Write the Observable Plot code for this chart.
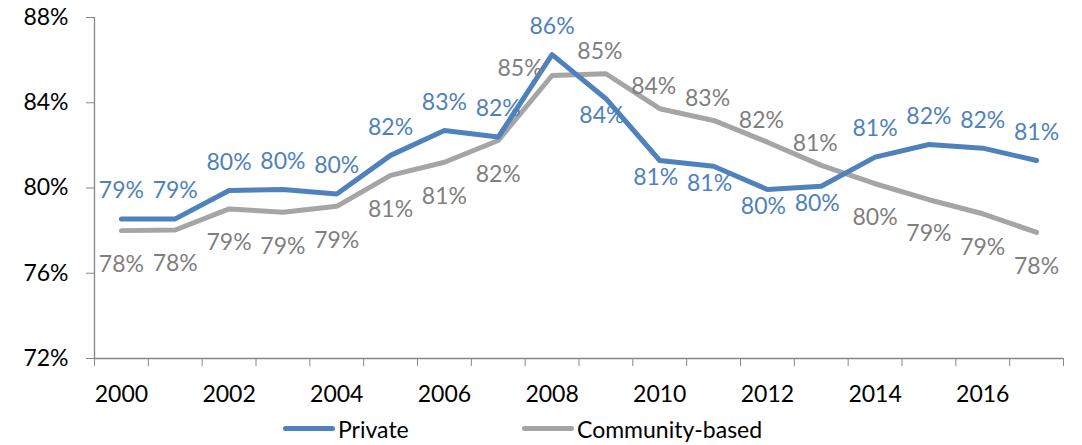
<!DOCTYPE html>
<html>
<head>
<meta charset="utf-8">
<script src="https://cdn.jsdelivr.net/npm/d3@7"></script>
<script src="https://cdn.jsdelivr.net/npm/@observablehq/plot@0.6"></script>
<style>
  html, body { margin: 0; padding: 0; background: #fff; }
  body { width: 1082px; height: 445px; overflow: hidden; font-family: Lato, "Open Sans", sans-serif; }
  #chart svg { display: block; }
  .legend { position: relative; height: 33px; font-size: 23px; color: #000; }
  .item { position: absolute; top: 0; display: flex; align-items: center; height: 33px; }
  .sw { width: 52px; height: 5px; border-radius: 3px; margin-right: 3px; }
</style>
</head>
<body>
<div id="chart"></div>
<div class="legend" id="legend"></div>
<script>
const years = d3.range(2000, 2018);
const seriesNames = ["Private", "Community-based"];
const privateValues = [78.55, 78.55, 79.88, 79.93, 79.72, 81.53, 82.70, 82.39, 86.26, 84.19, 81.29, 81.02, 79.93, 80.08, 81.45, 82.04, 81.87, 81.29];
const communityValues = [78.00, 78.03, 79.02, 78.86, 79.14, 80.59, 81.21, 82.23, 85.28, 85.36, 83.72, 83.17, 82.15, 81.06, 80.20, 79.45, 78.79, 77.92];
const yTicks = [72, 76, 80, 84, 88];
const xTickLabels = [2000, 2002, 2004, 2006, 2008, 2010, 2012, 2014, 2016];

const colors = {"Private": "#4F81BD", "Community-based": "#A5A5A5"};
const labelColors = {"Private": "#4F81BD", "Community-based": "#7F7F7F"};

const data = [];
years.forEach((yr, i) => {
  const p = privateValues[i], c = communityValues[i];
  data.push({year: yr, series: "Private", value: p, other: c});
  data.push({year: yr, series: "Community-based", value: c, other: p});
});
// label side: the higher series labels above, the lower below
data.forEach(d => { d.side = d.value >= d.other ? "above" : "below"; });
data.find(d => d.year === 2008 && d.series === "Community-based").side = "left";

const fmt = d => Math.round(d.value) + "%";
const FS = 23;

function labels(series, side, opts) {
  return Plot.text(data.filter(d => d.series === series && d.side === side), {
    x: "year", y: "value", text: fmt, fill: labelColors[series], fontSize: FS, ...opts
  });
}

const chart = Plot.plot({
  width: 1082,
  height: 412,
  marginLeft: 94,
  marginRight: 19,
  marginTop: 17,
  marginBottom: 54,
  style: {fontFamily: "Lato, 'Open Sans', sans-serif", background: "#fff"},
  x: {type: "linear", domain: [1999.5, 2017.5]},
  y: {domain: [72, 88]},
  marks: [
    Plot.ruleY([72], {stroke: "#868686", strokeWidth: 1.3}),
    Plot.ruleX([1999.5], {stroke: "#868686", strokeWidth: 1.3}),
    Plot.axisY({ticks: yTicks, tickSize: 8, tickPadding: 18, tickFormat: d => d + "%", stroke: "#868686", color: "#000", fontSize: FS, label: null}),
    Plot.axisX({ticks: d3.range(1999.5, 2018, 1), tickSize: 8, tickFormat: () => "", stroke: "#868686", label: null}),
    Plot.axisX({ticks: xTickLabels, tickSize: 0, tickPadding: 27, tickFormat: d => String(d), color: "#000", fontSize: FS, label: null}),
    Plot.lineY(data.filter(d => d.series === "Community-based"), {x: "year", y: "value", stroke: colors["Community-based"], strokeWidth: 5, strokeLinejoin: "round", strokeLinecap: "round"}),
    Plot.lineY(data.filter(d => d.series === "Private"), {x: "year", y: "value", stroke: colors["Private"], strokeWidth: 5, strokeLinejoin: "round", strokeLinecap: "round"}),
    labels("Private", "above", {dy: -28}),
    labels("Private", "below", {dy: 17, dx: -4}),
    labels("Community-based", "below", {dy: 34}),
    labels("Community-based", "above", {dy: -22, dx: -6}),
    labels("Community-based", "left", {dy: -7, dx: -32})
  ]
});
document.getElementById("chart").appendChild(chart);

const legend = document.getElementById("legend");
const lefts = [283, 522];
seriesNames.forEach((name, i) => {
  const item = document.createElement("div");
  item.className = "item";
  item.style.left = lefts[i] + "px";
  const sw = document.createElement("div");
  sw.className = "sw";
  sw.style.background = colors[name];
  const t = document.createElement("span");
  t.textContent = name;
  item.appendChild(sw);
  item.appendChild(t);
  legend.appendChild(item);
});
</script>
</body>
</html>
